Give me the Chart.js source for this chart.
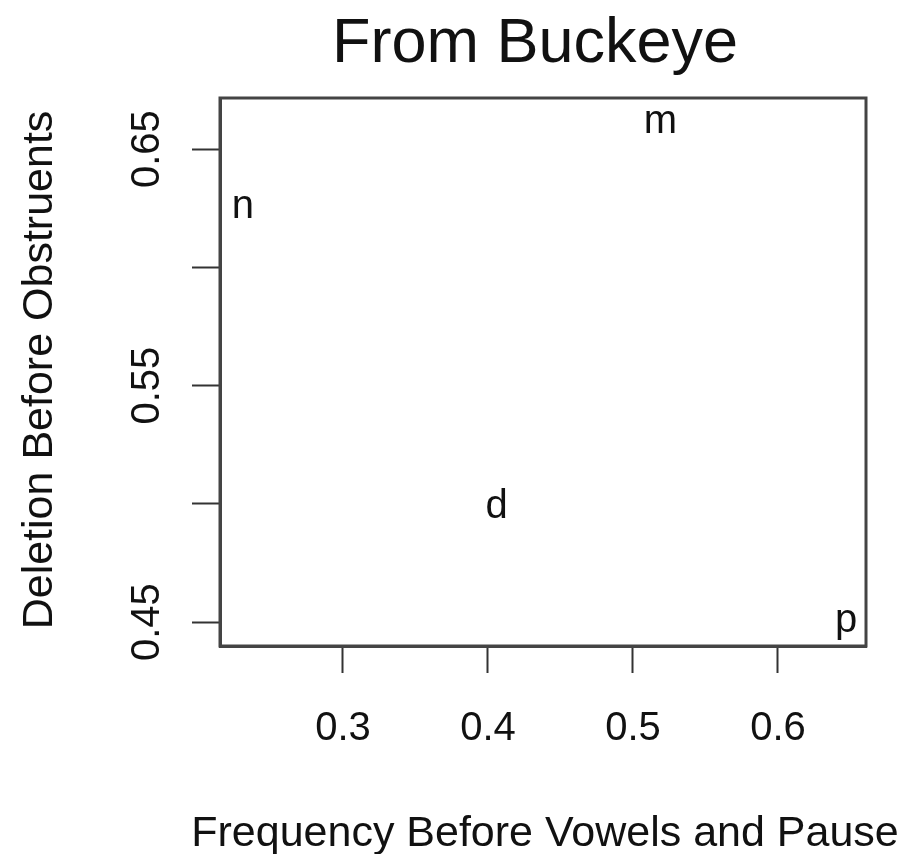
<!DOCTYPE html>
<html>
<head>
<meta charset="utf-8">
<script src="https://cdn.jsdelivr.net/npm/chart.js@4.4.1/dist/chart.umd.min.js"></script>
<style>
  html, body { margin: 0; padding: 0; background: #fff; }
  #wrap { width: 915px; height: 854px; }
</style>
</head>
<body>
<div id="wrap"><canvas id="chart" width="915" height="854"></canvas></div>
<script>
// Segment labels, plotted as text instead of symbols.
var segments = ['n', 'm', 'd', 'p'];
// Frequency before vowels and pause (x).
var freqBeforeVowels = [0.231, 0.519, 0.406, 0.647];
// Deletion before obstruents (y).
var deletionBeforeObstruents = [0.6255, 0.6614, 0.4986, 0.4504];

var xTicks = [0.3, 0.4, 0.5, 0.6];
var xTickLabels = ['0.3', '0.4', '0.5', '0.6'];
var yTicks = [0.45, 0.50, 0.55, 0.60, 0.65];
var yTickLabels = ['0.45', '', '0.55', '', '0.65'];

var chartTitle = 'From Buckeye';
var xTitle = 'Frequency Before Vowels and Pause';
var yTitle = 'Deletion Before Obstruents';

var FONT = '"Liberation Sans", Arial, Helvetica, sans-serif';
var INK = '#111';

// R-style text: point labels, box, titles.
var rText = {
    id: 'rText',
    afterDatasetsDraw: function (chart) {
        var ctx = chart.ctx;
        var meta = chart.getDatasetMeta(0);
        ctx.save();
        ctx.fillStyle = INK;
        ctx.font = '40px ' + FONT;
        ctx.textAlign = 'center';
        ctx.textBaseline = 'middle';
        meta.data.forEach(function (pt, i) {
            ctx.fillText(segments[i], pt.x, pt.y);
        });
        ctx.restore();
    },
    afterDraw: function (chart) {
        var ctx = chart.ctx;
        var a = chart.chartArea;
        var cx = (a.left + a.right) / 2;
        var cy = (a.top + a.bottom) / 2;
        ctx.save();
        // plot box
        ctx.strokeStyle = '#444';
        ctx.lineWidth = 3;
        ctx.strokeRect(a.left, a.top, a.right - a.left, a.bottom - a.top);

        ctx.fillStyle = INK;
        ctx.textAlign = 'center';
        ctx.textBaseline = 'alphabetic';
        // main title
        ctx.font = '63px ' + FONT;
        ctx.fillText(chartTitle, cx - 8, 62);
        // x title
        ctx.font = '43px ' + FONT;
        ctx.fillText(xTitle, cx + 2, 846);
        // y title
        ctx.translate(52, cy - 2);
        ctx.rotate(-Math.PI / 2);
        ctx.fillText(yTitle, 0, 0);
        ctx.restore();
    }
};

new Chart(document.getElementById('chart'), {
    type: 'scatter',
    data: {
        datasets: [{
            data: freqBeforeVowels.map(function (x, i) {
                return { x: x, y: deletionBeforeObstruents[i] };
            }),
            pointRadius: 0,
            pointHoverRadius: 0
        }]
    },
    options: {
        responsive: false,
        animation: false,
        layout: { padding: { top: 98, right: 49, left: 0, bottom: 0 } },
        plugins: {
            legend: { display: false },
            title: { display: false },
            tooltip: { enabled: false }
        },
        scales: {
            x: {
                type: 'linear',
                min: 0.2152,
                max: 0.6607,
                afterBuildTicks: function (s) {
                    s.ticks = xTicks.map(function (v) { return { value: v }; });
                },
                afterFit: function (s) { s.height = 208; },
                grid: { drawOnChartArea: false, drawTicks: true, tickLength: 27, tickWidth: 2, tickColor: '#333' },
                border: { display: true, color: '#444', width: 3 },
                ticks: {
                    color: INK,
                    font: { family: FONT, size: 40 },
                    padding: 32,
                    maxRotation: 0,
                    autoSkip: false,
                    callback: function (v, i) { return xTickLabels[i]; }
                }
            },
            y: {
                type: 'linear',
                min: 0.4399,
                max: 0.6716,
                afterBuildTicks: function (s) {
                    s.ticks = yTicks.map(function (v) { return { value: v }; });
                },
                afterFit: function (s) { s.width = 220; },
                grid: { drawOnChartArea: false, drawTicks: true, tickLength: 28, tickWidth: 2, tickColor: '#333' },
                border: { display: true, color: '#444', width: 3 },
                ticks: {
                    color: INK,
                    font: { family: FONT, size: 40 },
                    padding: 5,
                    minRotation: 90,
                    maxRotation: 90,
                    crossAlign: 'center',
                    autoSkip: false,
                    callback: function (v, i) { return yTickLabels[i]; }
                }
            }
        }
    },
    plugins: [rText]
});
</script>
</body>
</html>
